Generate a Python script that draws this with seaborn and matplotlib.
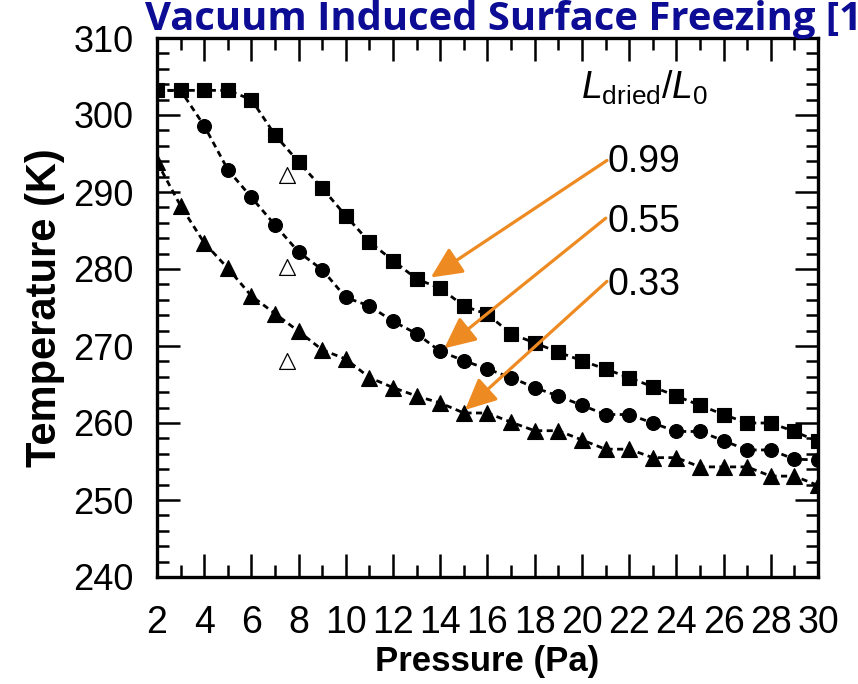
import numpy as np
import pandas as pd
import matplotlib
matplotlib.use("Agg")
import matplotlib.pyplot as plt
from matplotlib.ticker import MultipleLocator
import seaborn as sns

# Chamber pressure (Pa) and product temperature (K) for three dried-layer fractions
pressure = list(range(2, 31))
temp_099 = [303.2, 303.2, 303.2, 303.2, 302.0, 297.4, 293.9, 290.5, 286.9, 283.5,
            281.1, 278.7, 277.5, 275.2, 274.1, 271.6, 270.4, 269.2, 268.1, 267.0,
            265.9, 264.7, 263.5, 262.3, 261.1, 260.0, 260.0, 258.9, 257.6]
temp_055 = [303.2, 303.2, 298.6, 292.9, 289.3, 285.7, 282.2, 279.9, 276.3, 275.2,
            273.2, 271.6, 269.3, 268.1, 267.0, 265.9, 264.6, 263.5, 262.3, 261.1,
            261.1, 260.0, 258.9, 258.9, 257.7, 256.5, 256.5, 255.3, 255.2]
temp_033 = [293.9, 288.2, 283.4, 280.1, 276.5, 274.2, 271.9, 269.5, 268.3, 265.9,
            264.6, 263.5, 262.6, 261.3, 261.3, 260.1, 259.0, 259.0, 257.8, 256.6,
            256.6, 255.5, 255.5, 254.3, 254.3, 254.3, 253.1, 253.1, 251.9]

# Open-triangle reference points
open_p = [7.5, 7.5, 7.5]
open_t = [292.2, 280.3, 268.0]

ratio_labels = ["0.99", "0.55", "0.33"]

sns.set_theme(style="ticks")
plt.rcParams.update({
    "font.family": ["Liberation Sans", "DejaVu Sans"],
    "mathtext.fontset": "custom",
    "mathtext.rm": "Liberation Sans",
    "mathtext.it": "Liberation Sans:italic",
    "text.color": "black",
    "axes.labelcolor": "black",
    "axes.edgecolor": "black",
    "axes.axisbelow": False,
    "xtick.color": "black",
    "ytick.color": "black",
    "xtick.direction": "in",
    "ytick.direction": "in",
    "xtick.top": True,
    "ytick.right": True,
    "xtick.major.size": 16.5,
    "ytick.major.size": 16.5,
    "xtick.minor.size": 8.5,
    "ytick.minor.size": 8.5,
    "xtick.major.width": 1.8,
    "ytick.major.width": 1.8,
    "xtick.minor.width": 1.8,
    "ytick.minor.width": 1.8,
    "xtick.minor.visible": True,
    "ytick.minor.visible": True,
})

fig = plt.figure(figsize=(8.58, 6.84), dpi=100)
ax = fig.add_axes([157 / 858, 1 - 577 / 684, (818 - 157) / 858, (577 - 38) / 684])

dash = (0, (2.2, 1.6))
series = [(temp_099, "s", 9.4), (temp_055, "o", 10.0), (temp_033, "^", 11.8)]
for temps, mk, ms in series:
    df = pd.DataFrame({"Pressure": pressure, "Temperature": temps})
    sns.lineplot(data=df, x="Pressure", y="Temperature", ax=ax, color="black",
                 marker=mk, markersize=ms, mec="black", mfc="black", mew=0.8,
                 linestyle=dash, lw=2.0, zorder=3)

sns.scatterplot(x=open_p, y=open_t, ax=ax, marker="^", s=130,
                facecolor="white", edgecolor="black", linewidth=0.9, zorder=4)

orange = "#EE8A22"
tails = [(21.06, 294.1), (21.01, 286.6), (21.06, 278.4)]
tips = [(13.6, 278.9), (14.17, 269.7), (15.05, 261.7)]
baselines = [292.6, 284.8, 276.6]
for lab, tail, tip, yb in zip(ratio_labels, tails, tips, baselines):
    ax.annotate("", xy=tip, xytext=tail,
                arrowprops=dict(arrowstyle="-|>,head_length=0.95,head_width=0.45",
                                mutation_scale=20, color=orange, lw=2.3,
                                shrinkA=0, shrinkB=0), zorder=5)
    ax.text(21.1, yb, lab, fontsize=27, ha="left", va="baseline", color="black")

ax.text(19.97, 302.1, r"$L_{\rm dried}/L_0$", fontsize=27, ha="left",
        va="baseline", color="black")

ax.set_xlim(2, 30)
ax.set_ylim(240, 310)
ax.xaxis.set_major_locator(MultipleLocator(2))
ax.xaxis.set_minor_locator(MultipleLocator(1))
ax.yaxis.set_major_locator(MultipleLocator(10))
ax.yaxis.set_minor_locator(MultipleLocator(2))
ax.tick_params(which="both", direction="in", top=True, right=True,
               bottom=True, left=True, width=1.8, color="black")
ax.tick_params(which="major", length=16.5)
ax.tick_params(which="minor", length=8.5)
ax.tick_params(axis="x", which="major", labelsize=27, pad=20, labelcolor="black")
ax.tick_params(axis="y", which="major", labelsize=26, pad=17, labelcolor="black")
for sp in ax.spines.values():
    sp.set_visible(True)
    sp.set_linewidth(2.4)
    sp.set_color("black")
    sp.set_zorder(6)

ax.set_xlabel("Pressure (Pa)", fontsize=25, fontweight="bold", labelpad=3)
ax.set_ylabel("Temperature (K)", fontsize=30, fontweight="bold", labelpad=6)

fig.text(145 / 858, 1 - 30 / 684, "Vacuum Induced Surface Freezing [1",
         fontsize=28.8, fontweight="bold", color="#0c0c94",
         family=["Open Sans", "Lato", "DejaVu Sans"], ha="left", va="baseline")

fig.savefig("out.png", dpi=100, facecolor="white")
